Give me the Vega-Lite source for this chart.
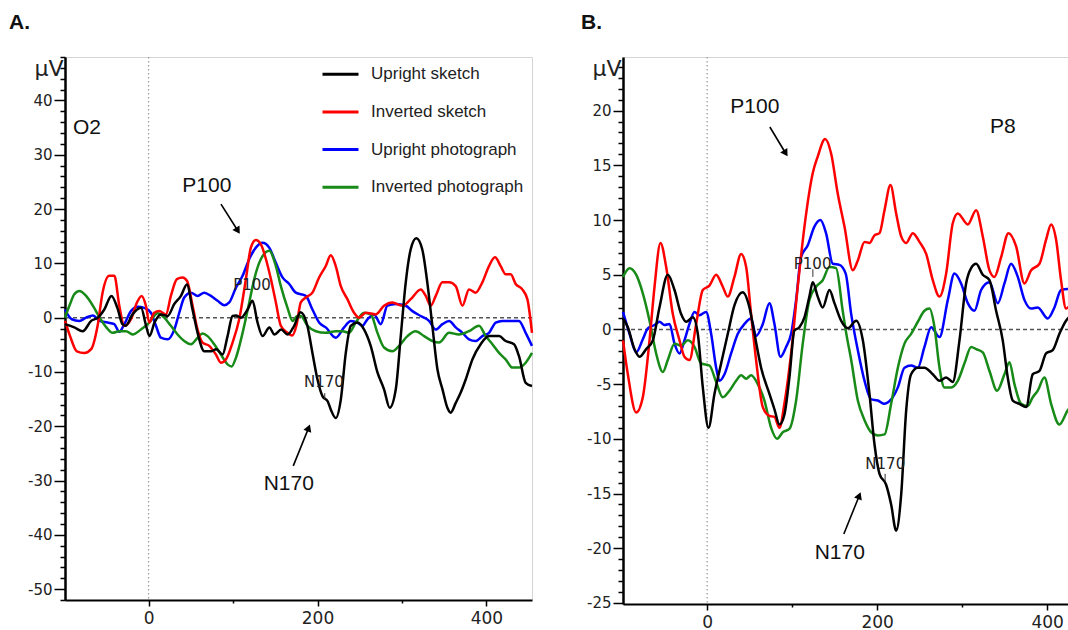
{
  "$schema": "https://vega.github.io/schema/vega-lite/v6.json",
  "background": "white",
  "padding": {"left": 8, "top": 11, "right": 0, "bottom": 0},
  "config": {"view": {"stroke": "#d4d4d4", "strokeWidth": 1}, "font": "Liberation Sans"},
  "datasets": {
    "A": [
      {"c":"Upright photograph","t":-99,"v":1.5},{"c":"Upright photograph","t":-91,"v":-0.3},{"c":"Upright photograph","t":-82,"v":-0.6},{"c":"Upright photograph","t":-74,"v":0},{"c":"Upright photograph","t":-66,"v":0.4},{"c":"Upright photograph","t":-58,"v":-0.6},{"c":"Upright photograph","t":-48.5,"v":-0.9},{"c":"Upright photograph","t":-40.6,"v":-1.2},{"c":"Upright photograph","t":-34.7,"v":-2.6},{"c":"Upright photograph","t":-28.8,"v":-1.2},{"c":"Upright photograph","t":-20.9,"v":1.2},{"c":"Upright photograph","t":-13,"v":2.0},{"c":"Upright photograph","t":-5.1,"v":1.8},{"c":"Upright photograph","t":2.8,"v":0.9},{"c":"Upright photograph","t":8.7,"v":-1.5},{"c":"Upright photograph","t":14.6,"v":-3.7},{"c":"Upright photograph","t":22.5,"v":-4.0},{"c":"Upright photograph","t":30.4,"v":-2.2},{"c":"Upright photograph","t":36.3,"v":0.9},{"c":"Upright photograph","t":42.2,"v":3.7},{"c":"Upright photograph","t":50.1,"v":4.6},{"c":"Upright photograph","t":58,"v":4.0},{"c":"Upright photograph","t":65.9,"v":4.6},{"c":"Upright photograph","t":73.8,"v":4.0},{"c":"Upright photograph","t":81.7,"v":3.1},{"c":"Upright photograph","t":89.6,"v":2.3},{"c":"Upright photograph","t":95.5,"v":2.8},{"c":"Upright photograph","t":103.4,"v":5.5},{"c":"Upright photograph","t":111.3,"v":7.7},{"c":"Upright photograph","t":119.2,"v":10.8},{"c":"Upright photograph","t":127,"v":12.9},{"c":"Upright photograph","t":134.9,"v":13.8},{"c":"Upright photograph","t":142.8,"v":12.9},{"c":"Upright photograph","t":150.7,"v":10.1},{"c":"Upright photograph","t":158.6,"v":7.4},{"c":"Upright photograph","t":166.5,"v":6.2},{"c":"Upright photograph","t":174.3,"v":4.6},{"c":"Upright photograph","t":186.1,"v":4.0},{"c":"Upright photograph","t":194,"v":1.5},{"c":"Upright photograph","t":201.9,"v":-0.9},{"c":"Upright photograph","t":209.8,"v":-1.8},{"c":"Upright photograph","t":221.6,"v":-3.7},{"c":"Upright photograph","t":231.5,"v":-1.8},{"c":"Upright photograph","t":239.4,"v":-0.6},{"c":"Upright photograph","t":247.3,"v":-0.9},{"c":"Upright photograph","t":253.2,"v":-1.5},{"c":"Upright photograph","t":259.1,"v":-0.3},{"c":"Upright photograph","t":267,"v":0.6},{"c":"Upright photograph","t":274.9,"v":-1.2},{"c":"Upright photograph","t":282.8,"v":2.2},{"c":"Upright photograph","t":292.7,"v":2.5},{"c":"Upright photograph","t":304.5,"v":2.2},{"c":"Upright photograph","t":312.4,"v":1.2},{"c":"Upright photograph","t":322.2,"v":0.3},{"c":"Upright photograph","t":332.1,"v":-0.6},{"c":"Upright photograph","t":340,"v":-2.2},{"c":"Upright photograph","t":347.9,"v":-1.2},{"c":"Upright photograph","t":355.8,"v":-0.6},{"c":"Upright photograph","t":363.7,"v":-1.8},{"c":"Upright photograph","t":371.6,"v":-2.8},{"c":"Upright photograph","t":379.4,"v":-4.0},{"c":"Upright photograph","t":387.3,"v":-4.3},{"c":"Upright photograph","t":395.2,"v":-3.4},{"c":"Upright photograph","t":403.1,"v":-2.8},{"c":"Upright photograph","t":411,"v":-0.9},{"c":"Upright photograph","t":418.9,"v":-0.6},{"c":"Upright photograph","t":430.7,"v":-0.6},{"c":"Upright photograph","t":438.6,"v":-0.6},{"c":"Upright photograph","t":446.5,"v":-2.8},{"c":"Upright photograph","t":454,"v":-5.2},
      {"c":"Inverted photograph","t":-99,"v":0},{"c":"Inverted photograph","t":-93,"v":2.5},{"c":"Inverted photograph","t":-88,"v":4.3},{"c":"Inverted photograph","t":-82,"v":4.9},{"c":"Inverted photograph","t":-74,"v":4.0},{"c":"Inverted photograph","t":-66,"v":2.2},{"c":"Inverted photograph","t":-58,"v":0},{"c":"Inverted photograph","t":-50,"v":-1.8},{"c":"Inverted photograph","t":-42.6,"v":-2.8},{"c":"Inverted photograph","t":-34.7,"v":-2.5},{"c":"Inverted photograph","t":-26.8,"v":-2.5},{"c":"Inverted photograph","t":-18.9,"v":-3.1},{"c":"Inverted photograph","t":-9.1,"v":-2.2},{"c":"Inverted photograph","t":0.8,"v":-0.9},{"c":"Inverted photograph","t":10.7,"v":0.8},{"c":"Inverted photograph","t":18.5,"v":0},{"c":"Inverted photograph","t":26.4,"v":-1.5},{"c":"Inverted photograph","t":34.3,"v":-3.1},{"c":"Inverted photograph","t":42.2,"v":-4.3},{"c":"Inverted photograph","t":50.1,"v":-4.9},{"c":"Inverted photograph","t":58,"v":-3.7},{"c":"Inverted photograph","t":63.9,"v":-2.9},{"c":"Inverted photograph","t":69.8,"v":-3.4},{"c":"Inverted photograph","t":77.7,"v":-4.9},{"c":"Inverted photograph","t":85.6,"v":-6.8},{"c":"Inverted photograph","t":93.5,"v":-8.6},{"c":"Inverted photograph","t":98.2,"v":-9.0},{"c":"Inverted photograph","t":103.4,"v":-7.4},{"c":"Inverted photograph","t":111.3,"v":-2.8},{"c":"Inverted photograph","t":119.2,"v":2.8},{"c":"Inverted photograph","t":125.1,"v":7.1},{"c":"Inverted photograph","t":133,"v":10.8},{"c":"Inverted photograph","t":142.8,"v":12.3},{"c":"Inverted photograph","t":150.7,"v":9.5},{"c":"Inverted photograph","t":156.6,"v":5.8},{"c":"Inverted photograph","t":164.5,"v":1.8},{"c":"Inverted photograph","t":170.4,"v":-0.6},{"c":"Inverted photograph","t":176,"v":0.3},{"c":"Inverted photograph","t":180.2,"v":0.3},{"c":"Inverted photograph","t":188.1,"v":-1.5},{"c":"Inverted photograph","t":198,"v":-2.5},{"c":"Inverted photograph","t":209.8,"v":-2.8},{"c":"Inverted photograph","t":221.6,"v":-2.5},{"c":"Inverted photograph","t":229.5,"v":-2.5},{"c":"Inverted photograph","t":237.4,"v":-2.8},{"c":"Inverted photograph","t":245.3,"v":-0.9},{"c":"Inverted photograph","t":255.2,"v":0.9},{"c":"Inverted photograph","t":263.1,"v":0.6},{"c":"Inverted photograph","t":271,"v":-2.8},{"c":"Inverted photograph","t":278.8,"v":-5.5},{"c":"Inverted photograph","t":288.7,"v":-6.2},{"c":"Inverted photograph","t":296.6,"v":-5.2},{"c":"Inverted photograph","t":306.5,"v":-3.4},{"c":"Inverted photograph","t":316.3,"v":-2.5},{"c":"Inverted photograph","t":326.2,"v":-3.4},{"c":"Inverted photograph","t":336,"v":-4.3},{"c":"Inverted photograph","t":343.9,"v":-4.6},{"c":"Inverted photograph","t":355.8,"v":-2.8},{"c":"Inverted photograph","t":367.6,"v":-3.1},{"c":"Inverted photograph","t":379.4,"v":-2.5},{"c":"Inverted photograph","t":391.3,"v":-1.5},{"c":"Inverted photograph","t":399.2,"v":-3.4},{"c":"Inverted photograph","t":407.1,"v":-4.9},{"c":"Inverted photograph","t":415,"v":-6.5},{"c":"Inverted photograph","t":422.8,"v":-7.7},{"c":"Inverted photograph","t":430.7,"v":-9.2},{"c":"Inverted photograph","t":438.6,"v":-9.2},{"c":"Inverted photograph","t":446.5,"v":-8.3},{"c":"Inverted photograph","t":454,"v":-6.5},
      {"c":"Inverted sketch","t":-99,"v":-0.6},{"c":"Inverted sketch","t":-93,"v":-3.4},{"c":"Inverted sketch","t":-85,"v":-6.2},{"c":"Inverted sketch","t":-76,"v":-6.5},{"c":"Inverted sketch","t":-68,"v":-5.8},{"c":"Inverted sketch","t":-60.4,"v":-1.5},{"c":"Inverted sketch","t":-54.5,"v":4.6},{"c":"Inverted sketch","t":-46.6,"v":7.7},{"c":"Inverted sketch","t":-40.6,"v":7.7},{"c":"Inverted sketch","t":-34.7,"v":2.2},{"c":"Inverted sketch","t":-28.8,"v":-1.5},{"c":"Inverted sketch","t":-20.9,"v":-0.3},{"c":"Inverted sketch","t":-13.8,"v":2.8},{"c":"Inverted sketch","t":-8.3,"v":4.0},{"c":"Inverted sketch","t":-3.2,"v":2.2},{"c":"Inverted sketch","t":0.8,"v":-0.9},{"c":"Inverted sketch","t":6.7,"v":0.9},{"c":"Inverted sketch","t":12.6,"v":1.2},{"c":"Inverted sketch","t":20.5,"v":0.6},{"c":"Inverted sketch","t":26.4,"v":4.0},{"c":"Inverted sketch","t":33.5,"v":7.1},{"c":"Inverted sketch","t":40.2,"v":7.4},{"c":"Inverted sketch","t":45.4,"v":6.8},{"c":"Inverted sketch","t":52.1,"v":2.2},{"c":"Inverted sketch","t":58,"v":-2.2},{"c":"Inverted sketch","t":63.9,"v":-4.6},{"c":"Inverted sketch","t":71.8,"v":-5.2},{"c":"Inverted sketch","t":79.7,"v":-6.8},{"c":"Inverted sketch","t":85.6,"v":-8.3},{"c":"Inverted sketch","t":91.5,"v":-7.7},{"c":"Inverted sketch","t":99.4,"v":-4.6},{"c":"Inverted sketch","t":107.3,"v":-0.3},{"c":"Inverted sketch","t":115.2,"v":7.1},{"c":"Inverted sketch","t":121.1,"v":12.9},{"c":"Inverted sketch","t":127,"v":14.3},{"c":"Inverted sketch","t":133,"v":13.5},{"c":"Inverted sketch","t":138.9,"v":10.8},{"c":"Inverted sketch","t":144.8,"v":7.1},{"c":"Inverted sketch","t":150.7,"v":2.8},{"c":"Inverted sketch","t":156.6,"v":-1.5},{"c":"Inverted sketch","t":164.5,"v":-2.8},{"c":"Inverted sketch","t":170,"v":-3.3},{"c":"Inverted sketch","t":175,"v":-1.5},{"c":"Inverted sketch","t":180.2,"v":2.8},{"c":"Inverted sketch","t":186.1,"v":3.7},{"c":"Inverted sketch","t":194,"v":4.6},{"c":"Inverted sketch","t":201.9,"v":7.4},{"c":"Inverted sketch","t":209.8,"v":9.5},{"c":"Inverted sketch","t":215.7,"v":11.5},{"c":"Inverted sketch","t":221.6,"v":9.5},{"c":"Inverted sketch","t":227.6,"v":5.8},{"c":"Inverted sketch","t":235.4,"v":3.4},{"c":"Inverted sketch","t":243.3,"v":0.9},{"c":"Inverted sketch","t":249.3,"v":0},{"c":"Inverted sketch","t":257.1,"v":0.9},{"c":"Inverted sketch","t":269,"v":0.6},{"c":"Inverted sketch","t":278.8,"v":2.2},{"c":"Inverted sketch","t":288.7,"v":2.8},{"c":"Inverted sketch","t":300.5,"v":2.2},{"c":"Inverted sketch","t":310.4,"v":3.4},{"c":"Inverted sketch","t":322.2,"v":5.2},{"c":"Inverted sketch","t":328.2,"v":4.0},{"c":"Inverted sketch","t":334.1,"v":2.2},{"c":"Inverted sketch","t":340,"v":4.0},{"c":"Inverted sketch","t":347.9,"v":6.5},{"c":"Inverted sketch","t":355.8,"v":6.5},{"c":"Inverted sketch","t":363.7,"v":5.8},{"c":"Inverted sketch","t":371.6,"v":2.2},{"c":"Inverted sketch","t":379.4,"v":5.2},{"c":"Inverted sketch","t":387.3,"v":4.6},{"c":"Inverted sketch","t":395.2,"v":6.5},{"c":"Inverted sketch","t":403.1,"v":9.5},{"c":"Inverted sketch","t":410.2,"v":11.1},{"c":"Inverted sketch","t":416.9,"v":9.5},{"c":"Inverted sketch","t":422.8,"v":8.0},{"c":"Inverted sketch","t":428.8,"v":8.0},{"c":"Inverted sketch","t":434.7,"v":6.2},{"c":"Inverted sketch","t":442.5,"v":5.2},{"c":"Inverted sketch","t":448.5,"v":3.4},{"c":"Inverted sketch","t":454,"v":-2.8},
      {"c":"Upright sketch","t":-99,"v":-1.2},{"c":"Upright sketch","t":-88,"v":-1.8},{"c":"Upright sketch","t":-78,"v":-2.5},{"c":"Upright sketch","t":-68,"v":-0.6},{"c":"Upright sketch","t":-60,"v":0},{"c":"Upright sketch","t":-52.5,"v":1.5},{"c":"Upright sketch","t":-44,"v":4.0},{"c":"Upright sketch","t":-37,"v":1.8},{"c":"Upright sketch","t":-31,"v":-1.2},{"c":"Upright sketch","t":-27,"v":-1.5},{"c":"Upright sketch","t":-19,"v":0.6},{"c":"Upright sketch","t":-9,"v":1.8},{"c":"Upright sketch","t":-3,"v":-1.5},{"c":"Upright sketch","t":1,"v":-3.4},{"c":"Upright sketch","t":7,"v":-0.9},{"c":"Upright sketch","t":14.6,"v":0.6},{"c":"Upright sketch","t":22.5,"v":0.3},{"c":"Upright sketch","t":30.4,"v":2.5},{"c":"Upright sketch","t":38.3,"v":4.0},{"c":"Upright sketch","t":45.4,"v":6.1},{"c":"Upright sketch","t":52,"v":1.5},{"c":"Upright sketch","t":58,"v":-2.8},{"c":"Upright sketch","t":66,"v":-6.2},{"c":"Upright sketch","t":74,"v":-6.2},{"c":"Upright sketch","t":80,"v":-5.8},{"c":"Upright sketch","t":87.6,"v":-6.8},{"c":"Upright sketch","t":93.5,"v":-3.4},{"c":"Upright sketch","t":99.4,"v":0.3},{"c":"Upright sketch","t":103.4,"v":0.4},{"c":"Upright sketch","t":109.3,"v":0},{"c":"Upright sketch","t":117.2,"v":1.5},{"c":"Upright sketch","t":123,"v":3.1},{"c":"Upright sketch","t":129,"v":-0.9},{"c":"Upright sketch","t":135,"v":-3.4},{"c":"Upright sketch","t":143,"v":-1.8},{"c":"Upright sketch","t":149,"v":-3.1},{"c":"Upright sketch","t":157,"v":-2.2},{"c":"Upright sketch","t":164.5,"v":-3.1},{"c":"Upright sketch","t":172.4,"v":-1.5},{"c":"Upright sketch","t":180,"v":1.0},{"c":"Upright sketch","t":188,"v":-1.5},{"c":"Upright sketch","t":194,"v":-6.5},{"c":"Upright sketch","t":200,"v":-11.4},{"c":"Upright sketch","t":206,"v":-14.5},{"c":"Upright sketch","t":212,"v":-15.4},{"c":"Upright sketch","t":215.7,"v":-16.9},{"c":"Upright sketch","t":221.6,"v":-18.5},{"c":"Upright sketch","t":227.6,"v":-15.1},{"c":"Upright sketch","t":233.5,"v":-6.5},{"c":"Upright sketch","t":239.4,"v":-1.5},{"c":"Upright sketch","t":247.3,"v":-0.9},{"c":"Upright sketch","t":255.2,"v":-2.2},{"c":"Upright sketch","t":263,"v":-5.2},{"c":"Upright sketch","t":271,"v":-10.1},{"c":"Upright sketch","t":278.8,"v":-13.2},{"c":"Upright sketch","t":285.5,"v":-16.6},{"c":"Upright sketch","t":292.7,"v":-13.2},{"c":"Upright sketch","t":298.6,"v":-3.4},{"c":"Upright sketch","t":304.5,"v":6.5},{"c":"Upright sketch","t":310.4,"v":12.6},{"c":"Upright sketch","t":317,"v":14.6},{"c":"Upright sketch","t":324,"v":12.6},{"c":"Upright sketch","t":330,"v":6.5},{"c":"Upright sketch","t":336,"v":-1.5},{"c":"Upright sketch","t":342,"v":-9.5},{"c":"Upright sketch","t":348,"v":-13.2},{"c":"Upright sketch","t":353.8,"v":-16.6},{"c":"Upright sketch","t":357.7,"v":-17.5},{"c":"Upright sketch","t":363.7,"v":-15.7},{"c":"Upright sketch","t":369.6,"v":-13.8},{"c":"Upright sketch","t":375.5,"v":-11.4},{"c":"Upright sketch","t":383.4,"v":-7.7},{"c":"Upright sketch","t":393.2,"v":-4.9},{"c":"Upright sketch","t":403,"v":-3.4},{"c":"Upright sketch","t":415,"v":-3.4},{"c":"Upright sketch","t":422.8,"v":-4.3},{"c":"Upright sketch","t":432.7,"v":-4.9},{"c":"Upright sketch","t":438.6,"v":-7.1},{"c":"Upright sketch","t":446.5,"v":-12.0},{"c":"Upright sketch","t":454,"v":-12.6}
    ],
    "B": [
      {"c":"Upright photograph","t":-99,"v":1.6},{"c":"Upright photograph","t":-91.3,"v":-0.4},{"c":"Upright photograph","t":-83.5,"v":-2.1},{"c":"Upright photograph","t":-75.7,"v":-0.9},{"c":"Upright photograph","t":-69.8,"v":0.1},{"c":"Upright photograph","t":-61.9,"v":0.4},{"c":"Upright photograph","t":-56.1,"v":0.7},{"c":"Upright photograph","t":-50.2,"v":0.4},{"c":"Upright photograph","t":-44.3,"v":0.5},{"c":"Upright photograph","t":-38.4,"v":-1.3},{"c":"Upright photograph","t":-32.5,"v":-2.2},{"c":"Upright photograph","t":-26.7,"v":-1.0},{"c":"Upright photograph","t":-20.8,"v":0.5},{"c":"Upright photograph","t":-14.9,"v":1.6},{"c":"Upright photograph","t":-9,"v":1.3},{"c":"Upright photograph","t":-1.2,"v":1.6},{"c":"Upright photograph","t":4.7,"v":-0.4},{"c":"Upright photograph","t":10.6,"v":-3.5},{"c":"Upright photograph","t":14.5,"v":-4.7},{"c":"Upright photograph","t":20.4,"v":-4.1},{"c":"Upright photograph","t":28.2,"v":-2.2},{"c":"Upright photograph","t":36.1,"v":-0.4},{"c":"Upright photograph","t":43.9,"v":0.5},{"c":"Upright photograph","t":51.7,"v":1.0},{"c":"Upright photograph","t":57.6,"v":-0.6},{"c":"Upright photograph","t":65.5,"v":0.5},{"c":"Upright photograph","t":73.3,"v":2.4},{"c":"Upright photograph","t":79.2,"v":0.5},{"c":"Upright photograph","t":86.2,"v":-2.5},{"c":"Upright photograph","t":92.9,"v":-1.6},{"c":"Upright photograph","t":98.8,"v":-0.4},{"c":"Upright photograph","t":104.7,"v":2.7},{"c":"Upright photograph","t":110.5,"v":6.6},{"c":"Upright photograph","t":118.4,"v":7.7},{"c":"Upright photograph","t":126.2,"v":9.4},{"c":"Upright photograph","t":133.3,"v":10.0},{"c":"Upright photograph","t":139.9,"v":8.8},{"c":"Upright photograph","t":147.8,"v":6.0},{"c":"Upright photograph","t":155.6,"v":5.9},{"c":"Upright photograph","t":163,"v":5.1},{"c":"Upright photograph","t":169.5,"v":1.4},{"c":"Upright photograph","t":177.3,"v":-1.9},{"c":"Upright photograph","t":185.2,"v":-4.7},{"c":"Upright photograph","t":193,"v":-6.4},{"c":"Upright photograph","t":200.8,"v":-6.5},{"c":"Upright photograph","t":207.9,"v":-6.8},{"c":"Upright photograph","t":216.5,"v":-6.4},{"c":"Upright photograph","t":224.4,"v":-5.3},{"c":"Upright photograph","t":232.2,"v":-3.5},{"c":"Upright photograph","t":240,"v":-3.3},{"c":"Upright photograph","t":247.9,"v":-3.5},{"c":"Upright photograph","t":255.7,"v":-1.6},{"c":"Upright photograph","t":263.6,"v":0.2},{"c":"Upright photograph","t":273.4,"v":-0.7},{"c":"Upright photograph","t":283.2,"v":2.7},{"c":"Upright photograph","t":291,"v":5.1},{"c":"Upright photograph","t":298.8,"v":4.2},{"c":"Upright photograph","t":306.7,"v":2.4},{"c":"Upright photograph","t":314.5,"v":1.7},{"c":"Upright photograph","t":322.4,"v":3.6},{"c":"Upright photograph","t":332.2,"v":4.3},{"c":"Upright photograph","t":342,"v":2.4},{"c":"Upright photograph","t":349.8,"v":4.2},{"c":"Upright photograph","t":357.6,"v":6.0},{"c":"Upright photograph","t":365.5,"v":4.8},{"c":"Upright photograph","t":373.3,"v":2.7},{"c":"Upright photograph","t":381.2,"v":1.9},{"c":"Upright photograph","t":389,"v":2.0},{"c":"Upright photograph","t":400.8,"v":1.0},{"c":"Upright photograph","t":408.6,"v":2.0},{"c":"Upright photograph","t":416.4,"v":3.6},{"c":"Upright photograph","t":424.3,"v":3.7},{"c":"Upright photograph","t":434,"v":2.8},
      {"c":"Inverted photograph","t":-99,"v":4.8},{"c":"Inverted photograph","t":-91.3,"v":5.6},{"c":"Inverted photograph","t":-83.5,"v":5.0},{"c":"Inverted photograph","t":-75.7,"v":3.3},{"c":"Inverted photograph","t":-67.8,"v":0.8},{"c":"Inverted photograph","t":-60,"v":-2.2},{"c":"Inverted photograph","t":-52.1,"v":-3.9},{"c":"Inverted photograph","t":-46.3,"v":-2.8},{"c":"Inverted photograph","t":-38.4,"v":-1.3},{"c":"Inverted photograph","t":-30.6,"v":-1.5},{"c":"Inverted photograph","t":-22.7,"v":-1.0},{"c":"Inverted photograph","t":-14.9,"v":-1.6},{"c":"Inverted photograph","t":-7.1,"v":-3.1},{"c":"Inverted photograph","t":2.7,"v":-3.3},{"c":"Inverted photograph","t":10.6,"v":-4.8},{"c":"Inverted photograph","t":18.4,"v":-6.2},{"c":"Inverted photograph","t":26.3,"v":-5.6},{"c":"Inverted photograph","t":34.1,"v":-4.7},{"c":"Inverted photograph","t":40,"v":-4.2},{"c":"Inverted photograph","t":45.9,"v":-4.5},{"c":"Inverted photograph","t":51.7,"v":-4.2},{"c":"Inverted photograph","t":59.6,"v":-5.0},{"c":"Inverted photograph","t":67.4,"v":-6.5},{"c":"Inverted photograph","t":75.3,"v":-9.0},{"c":"Inverted photograph","t":82.3,"v":-10.0},{"c":"Inverted photograph","t":89,"v":-9.4},{"c":"Inverted photograph","t":96.8,"v":-9.1},{"c":"Inverted photograph","t":104.7,"v":-6.5},{"c":"Inverted photograph","t":112.5,"v":-1.3},{"c":"Inverted photograph","t":120.3,"v":2.7},{"c":"Inverted photograph","t":128.2,"v":3.9},{"c":"Inverted photograph","t":136,"v":4.5},{"c":"Inverted photograph","t":143.9,"v":5.7},{"c":"Inverted photograph","t":151.7,"v":5.6},{"c":"Inverted photograph","t":159.5,"v":1.7},{"c":"Inverted photograph","t":164,"v":-0.5},{"c":"Inverted photograph","t":169.5,"v":-2.8},{"c":"Inverted photograph","t":177.3,"v":-6.5},{"c":"Inverted photograph","t":185.2,"v":-8.3},{"c":"Inverted photograph","t":193,"v":-9.4},{"c":"Inverted photograph","t":200.8,"v":-9.7},{"c":"Inverted photograph","t":208.7,"v":-9.6},{"c":"Inverted photograph","t":216.5,"v":-6.8},{"c":"Inverted photograph","t":224.4,"v":-3.5},{"c":"Inverted photograph","t":232.2,"v":-1.3},{"c":"Inverted photograph","t":240,"v":-0.4},{"c":"Inverted photograph","t":247.9,"v":0.7},{"c":"Inverted photograph","t":255.7,"v":1.7},{"c":"Inverted photograph","t":261.6,"v":1.9},{"c":"Inverted photograph","t":267.5,"v":0.2},{"c":"Inverted photograph","t":273.4,"v":-3.5},{"c":"Inverted photograph","t":279.2,"v":-5.3},{"c":"Inverted photograph","t":287.1,"v":-5.3},{"c":"Inverted photograph","t":294.9,"v":-4.7},{"c":"Inverted photograph","t":302.8,"v":-3.1},{"c":"Inverted photograph","t":310.6,"v":-1.6},{"c":"Inverted photograph","t":316.5,"v":-1.8},{"c":"Inverted photograph","t":324.3,"v":-2.1},{"c":"Inverted photograph","t":332.2,"v":-3.8},{"c":"Inverted photograph","t":341.2,"v":-5.6},{"c":"Inverted photograph","t":349.8,"v":-4.1},{"c":"Inverted photograph","t":355.7,"v":-3.0},{"c":"Inverted photograph","t":361.6,"v":-5.0},{"c":"Inverted photograph","t":369.4,"v":-6.8},{"c":"Inverted photograph","t":377.2,"v":-7.0},{"c":"Inverted photograph","t":383.1,"v":-6.2},{"c":"Inverted photograph","t":389,"v":-5.6},{"c":"Inverted photograph","t":396.8,"v":-4.4},{"c":"Inverted photograph","t":404.7,"v":-6.8},{"c":"Inverted photograph","t":414.5,"v":-8.7},{"c":"Inverted photograph","t":424.3,"v":-7.4},{"c":"Inverted photograph","t":434,"v":-6.7},
      {"c":"Inverted sketch","t":-99,"v":-1.0},{"c":"Inverted sketch","t":-93.3,"v":-4.1},{"c":"Inverted sketch","t":-83.5,"v":-7.6},{"c":"Inverted sketch","t":-75.7,"v":-6.2},{"c":"Inverted sketch","t":-67.8,"v":-1.0},{"c":"Inverted sketch","t":-61.9,"v":3.9},{"c":"Inverted sketch","t":-54.9,"v":7.9},{"c":"Inverted sketch","t":-48.2,"v":5.7},{"c":"Inverted sketch","t":-40.4,"v":1.4},{"c":"Inverted sketch","t":-32.5,"v":-1.0},{"c":"Inverted sketch","t":-26.7,"v":-2.5},{"c":"Inverted sketch","t":-20.8,"v":-2.8},{"c":"Inverted sketch","t":-12.9,"v":0.5},{"c":"Inverted sketch","t":-5.1,"v":3.6},{"c":"Inverted sketch","t":2.7,"v":4.0},{"c":"Inverted sketch","t":10.6,"v":5.0},{"c":"Inverted sketch","t":18.4,"v":3.9},{"c":"Inverted sketch","t":24.3,"v":3.0},{"c":"Inverted sketch","t":32.1,"v":4.8},{"c":"Inverted sketch","t":40,"v":6.9},{"c":"Inverted sketch","t":45.9,"v":5.7},{"c":"Inverted sketch","t":51.7,"v":1.4},{"c":"Inverted sketch","t":57.6,"v":-2.8},{"c":"Inverted sketch","t":65.5,"v":-7.1},{"c":"Inverted sketch","t":73.3,"v":-7.9},{"c":"Inverted sketch","t":79.2,"v":-8.0},{"c":"Inverted sketch","t":85.1,"v":-9.0},{"c":"Inverted sketch","t":90.9,"v":-6.8},{"c":"Inverted sketch","t":98.8,"v":-2.2},{"c":"Inverted sketch","t":106.6,"v":3.9},{"c":"Inverted sketch","t":114.5,"v":9.4},{"c":"Inverted sketch","t":124.3,"v":14.3},{"c":"Inverted sketch","t":130.1,"v":15.8},{"c":"Inverted sketch","t":138.8,"v":17.4},{"c":"Inverted sketch","t":145.8,"v":16.1},{"c":"Inverted sketch","t":153.7,"v":12.4},{"c":"Inverted sketch","t":161.6,"v":9.4},{"c":"Inverted sketch","t":171.4,"v":5.4},{"c":"Inverted sketch","t":177.3,"v":6.3},{"c":"Inverted sketch","t":185.2,"v":8.0},{"c":"Inverted sketch","t":191,"v":7.9},{"c":"Inverted sketch","t":196.9,"v":8.6},{"c":"Inverted sketch","t":202.8,"v":8.8},{"c":"Inverted sketch","t":208.7,"v":10.9},{"c":"Inverted sketch","t":215.7,"v":13.2},{"c":"Inverted sketch","t":222.4,"v":10.6},{"c":"Inverted sketch","t":228.3,"v":8.5},{"c":"Inverted sketch","t":234.2,"v":7.9},{"c":"Inverted sketch","t":242,"v":8.8},{"c":"Inverted sketch","t":249.8,"v":8.0},{"c":"Inverted sketch","t":257.7,"v":6.9},{"c":"Inverted sketch","t":265.5,"v":4.5},{"c":"Inverted sketch","t":273.4,"v":3.0},{"c":"Inverted sketch","t":281.2,"v":5.1},{"c":"Inverted sketch","t":289,"v":9.7},{"c":"Inverted sketch","t":294.9,"v":10.6},{"c":"Inverted sketch","t":306.7,"v":9.6},{"c":"Inverted sketch","t":316.5,"v":10.9},{"c":"Inverted sketch","t":324.3,"v":8.5},{"c":"Inverted sketch","t":332.2,"v":5.4},{"c":"Inverted sketch","t":338,"v":4.8},{"c":"Inverted sketch","t":345.9,"v":6.6},{"c":"Inverted sketch","t":354.5,"v":8.8},{"c":"Inverted sketch","t":363.5,"v":7.6},{"c":"Inverted sketch","t":373.3,"v":4.2},{"c":"Inverted sketch","t":381.2,"v":5.4},{"c":"Inverted sketch","t":391,"v":6.0},{"c":"Inverted sketch","t":398.8,"v":8.2},{"c":"Inverted sketch","t":404.7,"v":9.6},{"c":"Inverted sketch","t":410.6,"v":8.2},{"c":"Inverted sketch","t":416.4,"v":4.5},{"c":"Inverted sketch","t":422.3,"v":1.9},{"c":"Inverted sketch","t":428.2,"v":2.2},{"c":"Inverted sketch","t":434,"v":2.0},
      {"c":"Upright sketch","t":-99,"v":1.0},{"c":"Upright sketch","t":-93.3,"v":0.2},{"c":"Upright sketch","t":-85.5,"v":-1.8},{"c":"Upright sketch","t":-79.6,"v":-2.5},{"c":"Upright sketch","t":-71.7,"v":-1.8},{"c":"Upright sketch","t":-63.9,"v":-1.0},{"c":"Upright sketch","t":-56.1,"v":2.0},{"c":"Upright sketch","t":-46.3,"v":5.0},{"c":"Upright sketch","t":-38.4,"v":3.6},{"c":"Upright sketch","t":-30.6,"v":1.4},{"c":"Upright sketch","t":-24.7,"v":0.7},{"c":"Upright sketch","t":-16.9,"v":1.1},{"c":"Upright sketch","t":-11,"v":-0.4},{"c":"Upright sketch","t":-5.1,"v":-5.3},{"c":"Upright sketch","t":1.6,"v":-9.0},{"c":"Upright sketch","t":8.6,"v":-5.9},{"c":"Upright sketch","t":16.5,"v":-3.1},{"c":"Upright sketch","t":24.3,"v":-0.4},{"c":"Upright sketch","t":32.1,"v":2.2},{"c":"Upright sketch","t":41.9,"v":3.4},{"c":"Upright sketch","t":49.8,"v":2.0},{"c":"Upright sketch","t":55.7,"v":-0.4},{"c":"Upright sketch","t":63.5,"v":-3.5},{"c":"Upright sketch","t":73.3,"v":-5.9},{"c":"Upright sketch","t":79.2,"v":-7.3},{"c":"Upright sketch","t":85.1,"v":-8.7},{"c":"Upright sketch","t":90.9,"v":-7.8},{"c":"Upright sketch","t":96.8,"v":-4.4},{"c":"Upright sketch","t":102.7,"v":-0.1},{"c":"Upright sketch","t":108.6,"v":0.2},{"c":"Upright sketch","t":114.5,"v":1.1},{"c":"Upright sketch","t":120.3,"v":3.0},{"c":"Upright sketch","t":124.3,"v":4.3},{"c":"Upright sketch","t":130.1,"v":3.0},{"c":"Upright sketch","t":136,"v":2.0},{"c":"Upright sketch","t":143.9,"v":3.6},{"c":"Upright sketch","t":149.8,"v":2.4},{"c":"Upright sketch","t":157.6,"v":0.8},{"c":"Upright sketch","t":165.6,"v":0.1},{"c":"Upright sketch","t":175.4,"v":0.8},{"c":"Upright sketch","t":183.2,"v":-1.0},{"c":"Upright sketch","t":191,"v":-5.9},{"c":"Upright sketch","t":196.9,"v":-10.5},{"c":"Upright sketch","t":202.8,"v":-13.2},{"c":"Upright sketch","t":210.6,"v":-14.2},{"c":"Upright sketch","t":216.5,"v":-16.0},{"c":"Upright sketch","t":222.4,"v":-18.4},{"c":"Upright sketch","t":228.3,"v":-15.1},{"c":"Upright sketch","t":234.2,"v":-7.4},{"c":"Upright sketch","t":240,"v":-4.1},{"c":"Upright sketch","t":247.9,"v":-3.5},{"c":"Upright sketch","t":255.7,"v":-3.5},{"c":"Upright sketch","t":265.5,"v":-4.1},{"c":"Upright sketch","t":273.4,"v":-4.7},{"c":"Upright sketch","t":281.2,"v":-4.4},{"c":"Upright sketch","t":289,"v":-4.8},{"c":"Upright sketch","t":296.9,"v":-1.0},{"c":"Upright sketch","t":304.7,"v":4.2},{"c":"Upright sketch","t":310.6,"v":5.6},{"c":"Upright sketch","t":316.5,"v":6.0},{"c":"Upright sketch","t":324.3,"v":5.0},{"c":"Upright sketch","t":332.2,"v":4.5},{"c":"Upright sketch","t":340,"v":1.7},{"c":"Upright sketch","t":347.8,"v":-1.0},{"c":"Upright sketch","t":353.7,"v":-4.4},{"c":"Upright sketch","t":359.6,"v":-6.5},{"c":"Upright sketch","t":367.4,"v":-6.8},{"c":"Upright sketch","t":375.3,"v":-7.1},{"c":"Upright sketch","t":383.1,"v":-4.1},{"c":"Upright sketch","t":391,"v":-3.8},{"c":"Upright sketch","t":398.8,"v":-2.2},{"c":"Upright sketch","t":406.6,"v":-1.9},{"c":"Upright sketch","t":414.5,"v":-0.4},{"c":"Upright sketch","t":422.3,"v":0.8},{"c":"Upright sketch","t":430.2,"v":1.3},{"c":"Upright sketch","t":434,"v":1.0}
    ],
    "bigA": [{"t":-73,"v":34.9,"label":"O2"},{"t":69,"v":24.3,"label":"P100"},{"t":166,"v":-30.7,"label":"N170"}],
    "smallA": [{"t":122.4,"v":6.0,"label":"P100"},{"t":207.5,"v":-11.9,"label":"N170"}],
    "arrowA": [{"k":"P100","t":85.7,"v":20.9,"t2":105.7,"v2":16.0},{"k":"N170","t":171.3,"v":-27.3,"t2":189.5,"v2":-20.3}],
    "tickA": [{"t":208.6,"v":-13.9,"v2":-15.0}],
    "bigB": [{"t":347.9,"v":18.5,"label":"P8"},{"t":56.1,"v":20.3,"label":"P100"},{"t":156,"v":-20.4,"label":"N170"}],
    "smallB": [{"t":124.1,"v":6.0,"label":"P100"},{"t":209.6,"v":-12.3,"label":"N170"}],
    "arrowB": [{"k":"P100","t":73.8,"v":18.5,"t2":92.4,"v2":16.1},{"k":"N170","t":160.8,"v":-18.7,"t2":179,"v2":-15.2}],
    "tickB": [{"t":124.4,"v":5.5,"v2":4.8},{"t":209.4,"v":-13.2,"v2":-13.9}],
    "zero": [{"t":0,"v":0}]
  },
  "spacing": 42,
  "resolve": {"scale": {"x": "independent", "y": "independent", "color": "independent"}, "legend": {"color": "independent"}},
  "hconcat": [
    {
      "width": 467,
      "height": 543,
      "title": {"text": "A.", "anchor": "start", "frame": "group", "dx": -56, "offset": 0, "baseline": "alphabetic", "fontSize": 21, "fontWeight": "bold", "font": "Liberation Sans", "color": "#111"},
      "layer": [
        {
          "data": {"name": "zero"},
          "mark": {"type": "rule", "color": "#9a9a9a", "strokeWidth": 1.2, "strokeDash": [1.5, 2.5]},
          "encoding": {"x": {"field": "t", "type": "quantitative"}}
        },
        {
          "data": {"name": "zero"},
          "mark": {"type": "rule", "color": "#555555", "strokeWidth": 1.5, "strokeDash": [4, 3]},
          "encoding": {"y": {"field": "v", "type": "quantitative"}}
        },
        {
          "data": {"name": "A"},
          "mark": {"type": "line", "interpolate": "monotone", "strokeWidth": 2.5},
          "encoding": {
            "x": {"field": "t", "type": "quantitative", "scale": {"domain": [-99, 454], "nice": false, "zero": false},
              "axis": {"title": null, "values": [0, 100, 200, 300, 400], "tickCount": 50, "labelExpr": "datum.value % 200 === 0 ? '' + datum.value : ''",
                "tickSize": {"condition": {"test": "datum.value % 200 === 0", "value": 6}, "value": 3},
                "tickColor": "black", "tickWidth": 1.5, "domainColor": "black", "domainWidth": 2, "grid": false,
                "labelFont": "DejaVu Sans", "labelFontSize": 17, "labelColor": "#222", "labelPadding": 4, "labelFlush": false, "labelOverlap": false}},
            "y": {"field": "v", "type": "quantitative", "scale": {"domain": [-52, 48], "nice": false, "zero": false},
              "axis": {"title": "μV", "titleAngle": 0, "titleAlign": "right", "titleBaseline": "top", "titleX": -2, "titleY": 1,
                "titleFont": "DejaVu Sans", "titleFontSize": 22, "titleFontWeight": "normal", "titleColor": "#222",
                "values": [-52,-50,-48,-46,-44,-42,-40,-38,-36,-34,-32,-30,-28,-26,-24,-22,-20,-18,-16,-14,-12,-10,-8,-6,-4,-2,0,2,4,6,8,10,12,14,16,18,20,22,24,26,28,30,32,34,36,38,40,42,44,46,48],
                "tickCount": 200,
                "labelExpr": "datum.value % 10 === 0 ? '' + datum.value : ''",
                "tickSize": {"condition": {"test": "datum.value % 10 === 0", "value": 11}, "value": 5},
                "tickColor": "black", "tickWidth": 1.5, "domainColor": "black", "domainWidth": 2.5, "grid": false,
                "labelFont": "DejaVu Sans", "labelFontSize": 15, "labelColor": "#222", "labelPadding": 2, "labelOverlap": false, "labelFlush": false,
                "minExtent": 56, "maxExtent": 56}},
            "color": {"field": "c", "type": "nominal",
              "scale": {"domain": ["Upright sketch", "Inverted sketch", "Upright photograph", "Inverted photograph"], "range": ["#000000", "#ff0000", "#0000ff", "#178a17"]},
              "legend": {"orient": "none", "legendX": 256, "legendY": -2.3, "title": null, "symbolType": "stroke", "symbolSize": 1296, "symbolStrokeWidth": 3,
                "labelFont": "Liberation Sans", "labelFontSize": 17, "labelColor": "#222", "labelOffset": 11, "rowPadding": 9.7, "padding": 0}}
          }
        },
        {
          "data": {"name": "bigA"},
          "mark": {"type": "text", "font": "Liberation Sans", "fontSize": 21, "color": "#111", "align": "center", "baseline": "middle"},
          "encoding": {"x": {"field": "t", "type": "quantitative"}, "y": {"field": "v", "type": "quantitative"}, "text": {"field": "label"}}
        },
        {
          "data": {"name": "smallA"},
          "mark": {"type": "text", "font": "DejaVu Sans", "fontSize": 15, "color": "#222", "align": "center", "baseline": "middle"},
          "encoding": {"x": {"field": "t", "type": "quantitative"}, "y": {"field": "v", "type": "quantitative"}, "text": {"field": "label"}}
        },
        {
          "data": {"name": "arrowA"},
          "mark": {"type": "rule", "color": "black", "strokeWidth": 1.6},
          "encoding": {"x": {"field": "t", "type": "quantitative"}, "y": {"field": "v", "type": "quantitative"}, "x2": {"field": "t2"}, "y2": {"field": "v2"}}
        },
        {
          "data": {"name": "arrowA"},
          "transform": [{"filter": "datum.k === 'P100'"}],
          "mark": {"type": "point", "shape": "triangle-up", "filled": true, "color": "black", "opacity": 1, "size": 70, "angle": 148},
          "encoding": {"x": {"field": "t2", "type": "quantitative"}, "y": {"field": "v2", "type": "quantitative"}}
        },
        {
          "data": {"name": "arrowA"},
          "transform": [{"filter": "datum.k === 'N170'"}],
          "mark": {"type": "point", "shape": "triangle-up", "filled": true, "color": "black", "opacity": 1, "size": 70, "angle": 21},
          "encoding": {"x": {"field": "t2", "type": "quantitative"}, "y": {"field": "v2", "type": "quantitative"}}
        },
        {
          "data": {"name": "tickA"},
          "mark": {"type": "rule", "color": "#333", "strokeWidth": 1},
          "encoding": {"x": {"field": "t", "type": "quantitative"}, "y": {"field": "v", "type": "quantitative"}, "y2": {"field": "v2"}}
        }
      ]
    },
    {
      "width": 453,
      "height": 547,
      "title": {"text": "B.", "anchor": "start", "frame": "group", "dx": -42, "offset": 6, "baseline": "alphabetic", "fontSize": 21, "fontWeight": "bold", "font": "Liberation Sans", "color": "#111"},
      "layer": [
        {
          "data": {"name": "zero"},
          "mark": {"type": "rule", "color": "#9a9a9a", "strokeWidth": 1.2, "strokeDash": [1.5, 2.5]},
          "encoding": {"x": {"field": "t", "type": "quantitative"}}
        },
        {
          "data": {"name": "zero"},
          "mark": {"type": "rule", "color": "#555555", "strokeWidth": 1.5, "strokeDash": [4, 3]},
          "encoding": {"y": {"field": "v", "type": "quantitative"}}
        },
        {
          "data": {"name": "B"},
          "mark": {"type": "line", "interpolate": "monotone", "strokeWidth": 2.5},
          "encoding": {
            "x": {"field": "t", "type": "quantitative", "scale": {"domain": [-99, 434], "nice": false, "zero": false},
              "axis": {"title": null, "values": [0, 100, 200, 300, 400], "tickCount": 50, "labelExpr": "datum.value % 200 === 0 ? '' + datum.value : ''",
                "tickSize": {"condition": {"test": "datum.value % 200 === 0", "value": 6}, "value": 3},
                "tickColor": "black", "tickWidth": 1.5, "domainColor": "black", "domainWidth": 2, "grid": false,
                "labelFont": "DejaVu Sans", "labelFontSize": 17, "labelColor": "#222", "labelPadding": 4, "labelFlush": false, "labelOverlap": false}},
            "y": {"field": "v", "type": "quantitative", "scale": {"domain": [-25.1, 24.9], "nice": false, "zero": false},
              "axis": {"title": "μV", "titleAngle": 0, "titleAlign": "right", "titleBaseline": "top", "titleX": -2, "titleY": 1,
                "titleFont": "DejaVu Sans", "titleFontSize": 22, "titleFontWeight": "normal", "titleColor": "#222",
                "values": [-25,-24,-23,-22,-21,-20,-19,-18,-17,-16,-15,-14,-13,-12,-11,-10,-9,-8,-7,-6,-5,-4,-3,-2,-1,0,1,2,3,4,5,6,7,8,9,10,11,12,13,14,15,16,17,18,19,20,21,22,23,24],
                "tickCount": 200,
                "labelExpr": "datum.value % 5 === 0 ? '' + datum.value : ''",
                "tickSize": {"condition": {"test": "datum.value % 5 === 0", "value": 10}, "value": 5},
                "tickColor": "black", "tickWidth": 1.5, "domainColor": "black", "domainWidth": 2.5, "grid": false,
                "labelFont": "DejaVu Sans", "labelFontSize": 15, "labelColor": "#222", "labelPadding": 2, "labelOverlap": false, "labelFlush": false,
                "minExtent": 42, "maxExtent": 42}},
            "color": {"field": "c", "type": "nominal",
              "scale": {"domain": ["Upright sketch", "Inverted sketch", "Upright photograph", "Inverted photograph"], "range": ["#000000", "#ff0000", "#0000ff", "#178a17"]},
              "legend": null}
          }
        },
        {
          "data": {"name": "bigB"},
          "mark": {"type": "text", "font": "Liberation Sans", "fontSize": 21, "color": "#111", "align": "center", "baseline": "middle"},
          "encoding": {"x": {"field": "t", "type": "quantitative"}, "y": {"field": "v", "type": "quantitative"}, "text": {"field": "label"}}
        },
        {
          "data": {"name": "smallB"},
          "mark": {"type": "text", "font": "DejaVu Sans", "fontSize": 15, "color": "#222", "align": "center", "baseline": "middle"},
          "encoding": {"x": {"field": "t", "type": "quantitative"}, "y": {"field": "v", "type": "quantitative"}, "text": {"field": "label"}}
        },
        {
          "data": {"name": "arrowB"},
          "mark": {"type": "rule", "color": "black", "strokeWidth": 1.6},
          "encoding": {"x": {"field": "t", "type": "quantitative"}, "y": {"field": "v", "type": "quantitative"}, "x2": {"field": "t2"}, "y2": {"field": "v2"}}
        },
        {
          "data": {"name": "arrowB"},
          "transform": [{"filter": "datum.k === 'P100'"}],
          "mark": {"type": "point", "shape": "triangle-up", "filled": true, "color": "black", "opacity": 1, "size": 70, "angle": 148},
          "encoding": {"x": {"field": "t2", "type": "quantitative"}, "y": {"field": "v2", "type": "quantitative"}}
        },
        {
          "data": {"name": "arrowB"},
          "transform": [{"filter": "datum.k === 'N170'"}],
          "mark": {"type": "point", "shape": "triangle-up", "filled": true, "color": "black", "opacity": 1, "size": 70, "angle": 22},
          "encoding": {"x": {"field": "t2", "type": "quantitative"}, "y": {"field": "v2", "type": "quantitative"}}
        },
        {
          "data": {"name": "tickB"},
          "mark": {"type": "rule", "color": "#333", "strokeWidth": 1},
          "encoding": {"x": {"field": "t", "type": "quantitative"}, "y": {"field": "v", "type": "quantitative"}, "y2": {"field": "v2"}}
        }
      ]
    }
  ]
}
